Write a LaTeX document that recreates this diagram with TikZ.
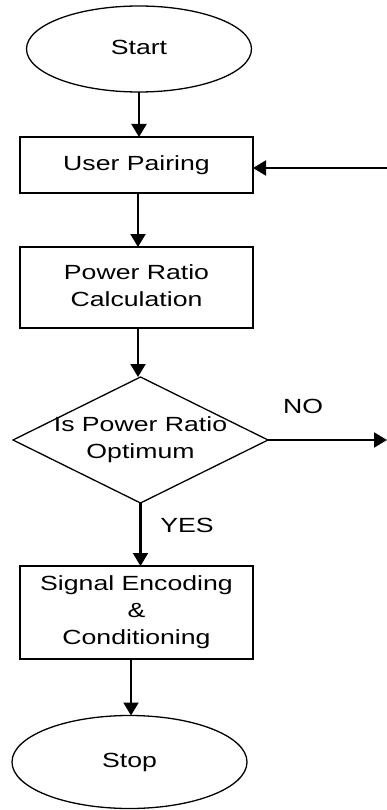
\documentclass[tikz,border=0pt]{standalone}
\usepackage{fontspec}
\setmainfont{Liberation Sans}
\usepackage{graphicx}
\usetikzlibrary{shapes.geometric,arrows.meta}

% wide sans lettering used for every label
\newcommand{\flowtxt}[1]{\scalebox{1.3}[1]{\begin{tabular}{@{}c@{}}#1\end{tabular}}}

\begin{document}
\begin{tikzpicture}[x=1pt,y=-1pt,
  every node/.style={font=\fontsize{20.5}{27}\selectfont, inner sep=0pt, outer sep=0pt},
  terminal/.style={draw, ellipse, line width=1.3pt},
  process/.style={draw, rectangle, line width=1.7pt},
  decision/.style={draw, diamond, line width=1.3pt},
  flow/.style={line width=2.1pt, -{Triangle[length=13pt,width=15pt]}},
  tag/.style={}]

\useasboundingbox (0,0) rectangle (387,810);

% shapes of the flow
\node[terminal, minimum width=225, minimum height=86] (start) at (139,49) {\flowtxt{Start}};
\node[process, minimum width=233, minimum height=56] (pair) at (136.5,165) {\flowtxt{User Pairing}};
\node[process, minimum width=233, minimum height=81] (calc) at (136.5,287.5) {\flowtxt{Power Ratio\\Calculation}};
\node[decision, minimum width=255, minimum height=126, aspect=2] (dec) at (140.5,440) {};
\node at (dec.center) {\flowtxt{Is Power Ratio\\Optimum}};
\node[process, minimum width=233, minimum height=93] (enc) at (136.5,612.5) {\flowtxt{Signal Encoding\\\&\\Conditioning}};
\node[terminal, minimum width=235, minimum height=93] (stop) at (129.5,762) {\flowtxt{Stop}};

% loose ends at the right border
\coordinate (loopin) at (387,168);
\coordinate (noout) at (387,440);

% connectors
\draw[flow] (start.south) -- (start.south |- pair.north);
\draw[flow] (pair.south -| 138,0) -- (calc.north -| 138,0);
\draw[flow] (calc.south -| 138,0) -- (dec.north -| 138,0);
\draw[flow] (dec.south) -- (dec.south |- enc.north);
\draw[flow] (enc.south -| 131,0) -- (stop.north -| 131,0);
\draw[flow] (loopin) -- (loopin -| pair.east);
\draw[flow] (dec.east) -- (noout);

% branch labels
\node[tag] (yes) at (187,527) {\flowtxt{YES}};
\node[tag] (no) at (303,408) {\flowtxt{NO}};
\end{tikzpicture}
\end{document}
